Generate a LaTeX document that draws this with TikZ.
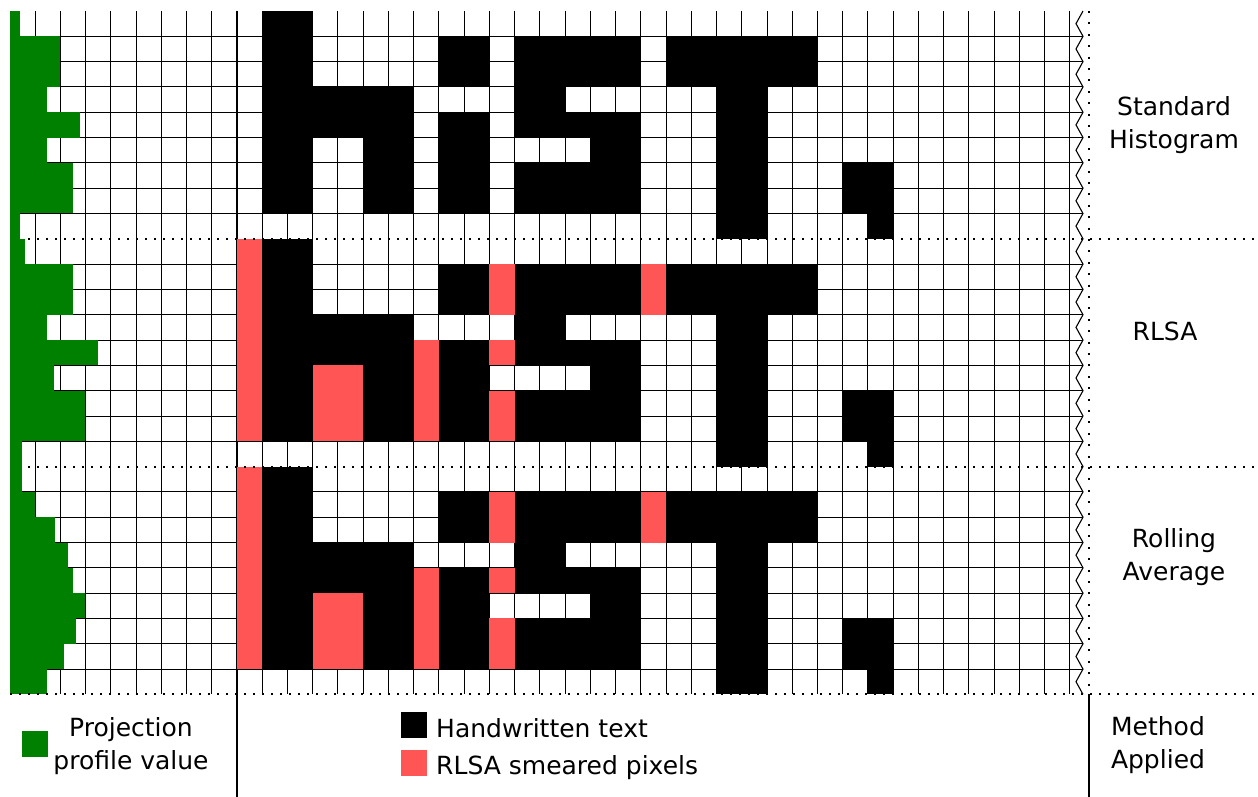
\documentclass[tikz,border=0pt]{standalone}
\usepackage{fontspec}
\setmainfont{DejaVu Sans}
\definecolor{profgreen}{RGB}{0,128,0}
\definecolor{smearred}{RGB}{255,85,85}
\begin{document}
\begin{tikzpicture}[x=1pt,y=-1pt,
  gridline/.style={line width=0.9pt,draw=black},
  sepline/.style={line width=2pt,draw=black},
  dotsh/.style={line width=2pt,draw=black,dash pattern=on 2pt off 7pt},
  dotsv/.style={line width=2pt,draw=black,dash pattern=on 2pt off 9.4pt},
  zigline/.style={line width=1.1pt,draw=black},
  lbl/.style={font=\fontsize{25}{32.3}\selectfont,align=center,inner sep=0pt},
  lbll/.style={font=\fontsize{25}{32.3}\selectfont,inner sep=0pt,anchor=base west},
]
\def\cw{25.24}\def\ch{25.31}\def\xo{9.76}\def\yo{11}
\useasboundingbox (0,0) rectangle (1258,797);
\fill[white] (0,0) rectangle (1258,797);
% vertical grid lines
\foreach \c in {1,...,42}{\draw[gridline] ({\xo+\cw*\c},\yo) -- ({\xo+\cw*\c},{\yo+27*\ch});}
% horizontal grid lines (band borders are dotted)
\foreach \b in {0,1,2}{\foreach \r in {1,...,8}{\draw[gridline] (\xo,{\yo+\ch*(9*\b+\r)}) -- (1083,{\yo+\ch*(9*\b+\r)});}}
% zigzag cut edge
\draw[zigline] (1083,\yo) \foreach \r in {0,...,26}{ -- (1076,{\yo+\ch*(\r+0.5)}) -- (1083,{\yo+\ch*(\r+1)}) };
% left separator
\draw[sepline] ({\xo+9*\cw},\yo) -- ({\xo+9*\cw},{\yo+9*\ch});
\draw[sepline] ({\xo+9*\cw},{\yo+17*\ch}) -- ({\xo+9*\cw},{\yo+18*\ch});
\draw[sepline] ({\xo+9*\cw},{\yo+26*\ch}) -- ({\xo+9*\cw},797);
% pixel macros
\def\pixblk#1#2#3#4{\fill[black] ({\xo+\cw*#1},{\yo+\ch*(#2+\boff)}) rectangle ({\xo+\cw*(#3+1)},{\yo+\ch*(#4+1+\boff)});}
\def\pixred#1#2#3#4{\fill[smearred] ({\xo+\cw*#1},{\yo+\ch*(#2+\boff)}) rectangle ({\xo+\cw*(#3+1)},{\yo+\ch*(#4+1+\boff)});}
\foreach \boff in {0,9,18}{
  % h
  \pixblk{10}{0}{11}{7}
  \pixblk{12}{3}{13}{4}
  \pixblk{14}{3}{15}{7}
  % i
  \pixblk{17}{1}{18}{2}
  \pixblk{17}{4}{18}{7}
  % s
  \pixblk{20}{1}{24}{2}
  \pixblk{20}{3}{21}{3}
  \pixblk{20}{4}{24}{4}
  \pixblk{23}{5}{24}{5}
  \pixblk{20}{6}{24}{7}
  % T
  \pixblk{26}{1}{31}{2}
  \pixblk{28}{3}{29}{8}
  % .
  \pixblk{33}{6}{34}{7}
  \pixblk{34}{8}{34}{8}
}
\foreach \boff in {9,18}{
  \pixred{9}{0}{9}{7}
  \pixred{12}{5}{13}{7}
  \pixred{16}{4}{16}{7}
  \pixred{19}{1}{19}{2}
  \pixred{19}{4}{19}{4}
  \pixred{19}{6}{19}{7}
  \pixred{25}{1}{25}{2}
}
% projection profiles
\foreach \w [count=\i from 0] in {20,60,60,47,80,47,73,73,20,
                                  25,73,73,47,98,54,85.3,85.3,22,
                                  22,35,55,68,73,85.3,76,64,47}{
  \fill[profgreen] (\xo,{\yo+\ch*\i}) rectangle (\w,{\yo+\ch*(\i+1)});
}
% dotted band borders
\draw[dotsh] (28,{\yo+9*\ch}) -- (1258,{\yo+9*\ch});
\draw[dotsh] (28,{\yo+18*\ch}) -- (1258,{\yo+18*\ch});
\draw[dotsh] (\xo,{\yo+27*\ch}) -- (1258,{\yo+27*\ch});
\draw[dotsv] (1089,\yo) -- (1089,{\yo+27*\ch});
\draw[sepline] (1089,{\yo+27*\ch}) -- (1089,797);
% method labels
\node[lbl] (stdhist) at (1174,125) {Standard\\Histogram};
\node[lbl] (rlsa) at (1165,331) {RLSA};
\node[lbl] (rollavg) at (1174,557) {Rolling\\Average};
\node[lbl] (method) at (1158,745) {Method\\Applied};
% legend
\fill[profgreen] (22,731) rectangle (48,757);
\node[lbl] (projtxt) at (131,746) {Projection\\profile value};
\fill[black] (401,712) rectangle (427,738);
\fill[smearred] (401,750) rectangle (427,776);
\node[lbll] (hwtxt) at (436,737) {Handwritten text};
\node[lbll] (rlsatxt) at (436,774) {RLSA smeared pixels};
\end{tikzpicture}
\end{document}
